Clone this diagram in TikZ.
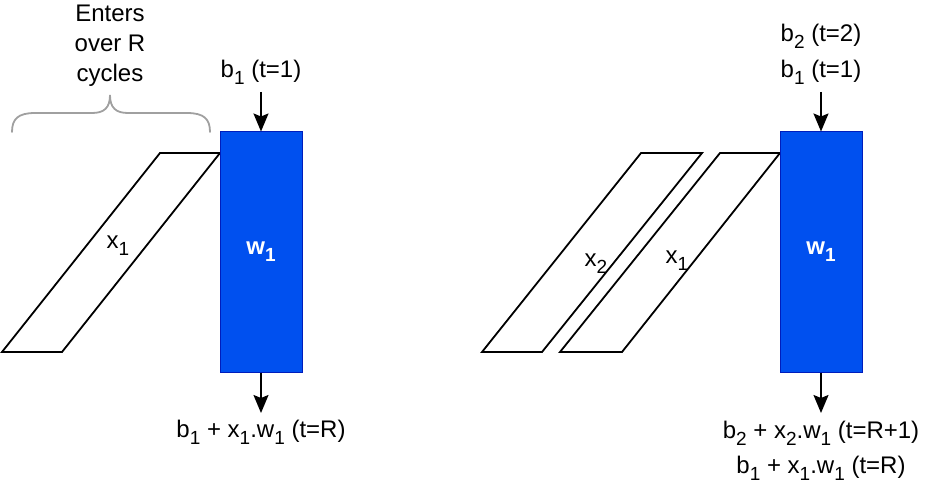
\documentclass[tikz,border=0pt]{standalone}
\usepackage{fontspec}
\setmainfont{Liberation Sans}
\usetikzlibrary{arrows.meta}
\definecolor{wblue}{HTML}{0050EF}
\definecolor{wstroke}{HTML}{001DBC}
\definecolor{bracegray}{HTML}{A0A0A0}
\newcommand{\subs}[1]{\raisebox{-0.3em}{\fontsize{19}{19}\selectfont #1}}
\tikzset{
  lbl/.style={font=\fontsize{24}{28}\selectfont, inner sep=0pt, align=center},
  weight/.style={draw=wstroke, fill=wblue, line width=1pt, minimum width=82pt, minimum height=240pt,
    text=white, font=\fontsize{24}{28}\selectfont\bfseries, inner sep=0pt},
  para/.style={draw=black, line width=1.8pt, line join=miter},
  flow/.style={-{Stealth[length=18pt,width=15pt,inset=3pt]}, line width=1.8pt},
  bracestyle/.style={draw=bracegray, line width=1.8pt, line cap=round}
}
\begin{document}
\begin{tikzpicture}[x=1pt,y=-1pt]
\useasboundingbox (0,0) rectangle (942,494);
% ---------- left ----------
\draw[bracestyle] (12,132) .. controls (12,119) and (18,113) .. (35,113) -- (92,113)
  .. controls (104,113) and (110,108) .. (110,95)
  .. controls (110,108) and (116,113) .. (128,113) -- (187,113)
  .. controls (204,113) and (210,119) .. (210,132);
\node[lbl] (enters) at (110,46) {Enters\\[2pt]over R\\[2pt]cycles};
\draw[para] (160,153) -- (220,153) -- (62,352) -- (2,352) -- cycle;
\node[lbl] (xL) at (118,246) {x\subs{1}};
\node[weight] (wL) at (261,252) {w\subs{1}};
\node[lbl] (bL) at (261,72) {b\subs{1} (t=1)};
\node[lbl] (oL) at (261,432) {b\subs{1} + x\subs{1}.w\subs{1} (t=R)};
\coordinate (inL) at (261,92);
\coordinate (outL) at (261,413);
\draw[flow] (inL) -- (wL.north);
\draw[flow] (wL.south) -- (outL);
% ---------- right ----------
\draw[para] (641,153) -- (702,153) -- (542,352) -- (482,352) -- cycle;
\draw[para] (720,153) -- (780,153) -- (622,352) -- (560,352) -- cycle;
\node[lbl] (x2R) at (596,264) {x\subs{2}};
\node[lbl] (x1R) at (677,261) {x\subs{1}};
\node[weight] (wR) at (821,252) {w\subs{1}};
\node[lbl] (b2R) at (821,36) {b\subs{2} (t=2)};
\node[lbl] (b1R) at (821,72) {b\subs{1} (t=1)};
\node[lbl] (o2R) at (821,433) {b\subs{2} + x\subs{2}.w\subs{1} (t=R+1)};
\node[lbl] (o1R) at (821,468) {b\subs{1} + x\subs{1}.w\subs{1} (t=R)};
\coordinate (inR) at (821,92);
\coordinate (outR) at (821,413);
\draw[flow] (inR) -- (wR.north);
\draw[flow] (wR.south) -- (outR);
\end{tikzpicture}
\end{document}
